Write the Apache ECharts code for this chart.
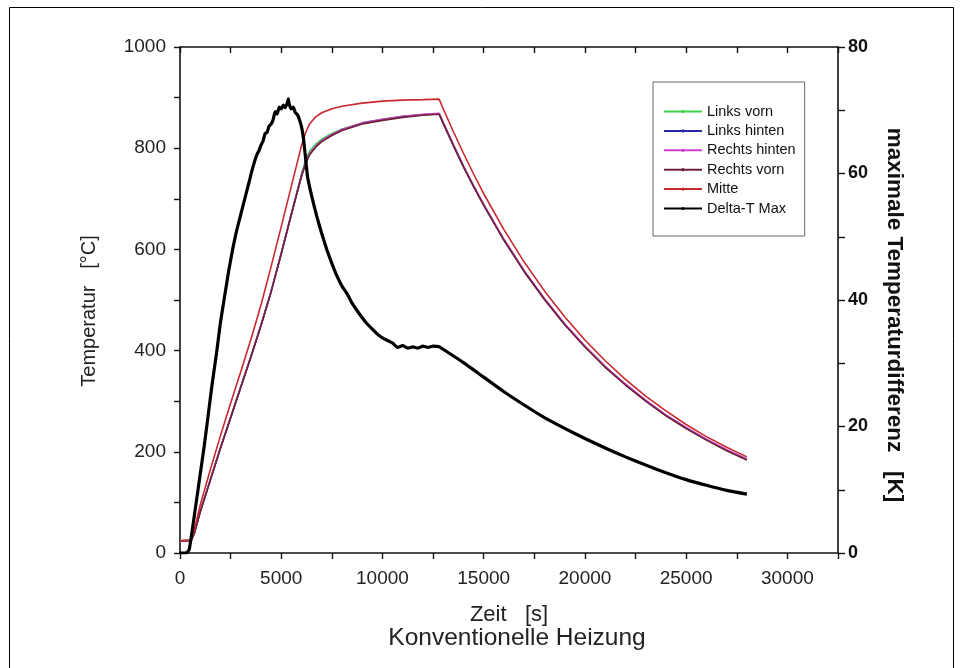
<!DOCTYPE html>
<html>
<head>
<meta charset="utf-8">
<script src="https://cdn.jsdelivr.net/npm/echarts@6/dist/echarts.min.js"></script>
<style>html,body{margin:0;padding:0;background:#fff;}#chart{width:963px;height:668px;}</style>
</head>
<body>
<div id="chart"></div>
<script>
// ---- Data ----
const zeit = [0, 550, 700, 1000, 1500, 2000, 2500, 3000, 3500, 4000, 4500, 5000, 5500, 6000, 6200, 6400, 6700, 7000, 7500, 8000, 9000, 10000, 11000, 12000, 12800,
  13000, 13500, 14000, 14500, 15000, 16000, 17000, 18000, 19000, 20000, 21000, 22000, 23000, 24000, 25000, 26000, 27000, 28000];
const linksVorn    = [24, 25, 38, 82, 145, 208, 268, 328, 388, 450, 517, 592, 670, 749, 776, 794, 808, 818, 829, 838, 850, 857, 863, 866, 868,
  850, 806, 764, 725, 688, 619, 557, 502, 452, 408, 368, 333, 301, 272, 247, 224, 203, 185];
const linksHinten  = [24, 25, 38, 82, 145, 208, 268, 328, 388, 450, 517, 592, 670, 745, 770, 788, 803, 814, 826, 836, 849, 856, 862, 866, 868,
  850, 806, 764, 725, 688, 619, 557, 502, 452, 408, 368, 333, 301, 272, 247, 224, 203, 185];
const rechtsHinten = [24, 25, 38, 82, 145, 208, 268, 328, 388, 450, 517, 592, 670, 746, 771, 789, 804, 815, 827, 837, 850, 857, 863, 867, 869,
  851, 807, 765, 726, 689, 620, 558, 503, 453, 409, 369, 334, 302, 273, 248, 225, 204, 186];
const rechtsVorn   = [24, 25, 38, 81, 144, 207, 267, 327, 387, 449, 516, 591, 669, 744, 769, 787, 802, 813, 825, 835, 848, 855, 861, 865, 867,
  849, 805, 763, 724, 687, 618, 556, 501, 451, 407, 367, 332, 300, 271, 246, 223, 202, 184];
const mitte        = [24, 25, 45, 95, 165, 232, 296, 358, 422, 490, 566, 645, 725, 805, 830, 848, 862, 870, 878, 883, 889, 893, 895, 896, 897,
  878, 833, 790, 749, 710, 639, 575, 518, 467, 421, 380, 343, 310, 281, 254, 230, 209, 190];

const zeitDelta = [0, 300, 450, 600, 800, 1000, 1200, 1400, 1600, 1800, 2000, 2200, 2400, 2600, 2800, 3000, 3200, 3400, 3600, 3800, 3900, 4000, 4100, 4200, 4300, 4400, 4500,
  4600, 4700, 4800, 4900, 5000, 5100, 5200, 5300, 5350, 5400, 5500, 5600, 5700, 5800, 5900, 6000, 6100, 6200, 6300, 6500, 6750, 7000, 7250, 7500, 7750, 8000,
  8250, 8500, 8750, 9000, 9250, 9500, 9750, 10000, 10250, 10500, 10750, 11000, 11250, 11500, 11750, 12000, 12250, 12500, 12800,
  13000, 14000, 15000, 16000, 17000, 18000, 19000, 20000, 21000, 22000, 23000, 24000, 25000, 26000, 27000, 28000];
const deltaTMax = [0, 0, 0.5, 3.5, 8, 12.5, 17, 22, 27, 31.5, 36.5, 40.5, 44.5, 48, 51, 53.5, 56, 58.5, 61, 63, 63.6, 64.5, 65.1, 66.3, 66.5, 67.5, 67.8,
  68.5, 69.8, 69.4, 70.5, 70.2, 70.8, 70.4, 71.2, 71.8, 70.9, 70.2, 70.5, 69.6, 69.3, 68.5, 67.4, 65.5, 62.5, 59.5, 56.5, 53.3, 50.5, 48, 45.8, 43.8, 42.2,
  41.0, 39.5, 38.3, 37.2, 36.2, 35.4, 34.6, 34.0, 33.6, 33.2, 32.5, 32.8, 32.4, 32.6, 32.4, 32.7, 32.5, 32.7, 32.6,
  32.2, 30.1, 27.8, 25.5, 23.4, 21.4, 19.7, 18.1, 16.6, 15.2, 13.9, 12.7, 11.6, 10.7, 9.9, 9.3];

const xTicks = [0, 5000, 10000, 15000, 20000, 25000, 30000];
const leftTicks = [0, 200, 400, 600, 800, 1000];
const rightTicks = [0, 20, 40, 60, 80];

const seriesNames = ['Links vorn', 'Links hinten', 'Rechts hinten', 'Rechts vorn', 'Mitte', 'Delta-T Max'];
const seriesColors = ['#3ecf4a', '#2a2aa8', '#cc3fcc', '#6e2236', '#c8282e', '#000000'];
const tempSeries = [linksVorn, linksHinten, rechtsHinten, rechtsVorn, mitte];

const zip = (xs, ys) => xs.map((x, i) => [x, ys[i]]);

const chart = echarts.init(document.getElementById('chart'));
const FONT = '"Liberation Sans", Arial, sans-serif';

const series = tempSeries.map((vals, i) => ({
  name: seriesNames[i],
  type: 'line',
  xAxisIndex: 0,
  yAxisIndex: 0,
  data: zip(zeit, vals),
  showSymbol: false,
  symbol: 'circle',
  symbolSize: 3,
  smooth: false,
  lineStyle: { width: 1.6, color: seriesColors[i] },
  itemStyle: { color: seriesColors[i] },
  animation: false,
  z: 2 + i
}));
series.push({
  name: seriesNames[5],
  type: 'line',
  xAxisIndex: 0,
  yAxisIndex: 1,
  data: zip(zeitDelta, deltaTMax),
  showSymbol: false,
  symbol: 'none',
  smooth: 0.15,
  lineStyle: { width: 3.2, color: '#000' },
  itemStyle: { color: '#000' },
  animation: false,
  z: 10
});

const axisLine = { show: true, onZero: false, lineStyle: { color: '#111', width: 1.6 } };

chart.setOption({
  animation: false,
  backgroundColor: '#fff',
  grid: { left: 180, right: 125, top: 47, bottom: 115, containLabel: false },
  legend: {
    orient: 'vertical',
    left: 653, top: 82,
    width: 151,
    padding: [22, 9, 20, 10],
    itemWidth: 38, itemHeight: 4, itemGap: 4.4,
    borderColor: '#666', borderWidth: 1,
    backgroundColor: '#fff',
    textStyle: { fontFamily: FONT, fontSize: 14.5, color: '#111', lineHeight: 15 },
    data: seriesNames
  },
  xAxis: [{
    type: 'value', position: 'bottom', min: 0, max: 32500, interval: 5000,
    axisLine: axisLine,
    axisTick: { show: true, inside: false, length: 6, lineStyle: { color: '#111', width: 1.4 } },
    minorTick: { show: true, splitNumber: 2, length: 6, lineStyle: { color: '#111', width: 1.4 } },
    splitLine: { show: false },
    axisLabel: { margin: 16, showMaxLabel: false, fontFamily: FONT, fontSize: 19, color: '#222',
      formatter: v => xTicks.includes(v) ? String(v) : '' }
  }, {
    type: 'value', position: 'top', min: 0, max: 32500, interval: 2500,
    axisLine: axisLine,
    axisTick: { show: true, inside: true, length: 6, lineStyle: { color: '#111', width: 1.4 } },
    axisLabel: { show: false },
    splitLine: { show: false }
  }],
  yAxis: [{
    type: 'value', position: 'left', min: 0, max: 1000, interval: 200,
    axisLine: axisLine,
    axisTick: { show: true, inside: false, length: 6, lineStyle: { color: '#111', width: 1.4 } },
    minorTick: { show: true, splitNumber: 2, length: 6, lineStyle: { color: '#111', width: 1.4 } },
    splitLine: { show: false },
    axisLabel: { margin: 14, fontFamily: FONT, fontSize: 19, color: '#222',
      formatter: v => leftTicks.includes(v) ? String(v) : '' }
  }, {
    type: 'value', position: 'right', min: 0, max: 80, interval: 20,
    axisLine: axisLine,
    axisTick: { show: true, inside: false, length: 7, lineStyle: { color: '#111', width: 1.4 } },
    minorTick: { show: true, splitNumber: 2, length: 7, lineStyle: { color: '#111', width: 1.4 } },
    splitLine: { show: false },
    axisLabel: { margin: 10, fontFamily: FONT, fontSize: 18, fontWeight: 'bold', color: '#111',
      formatter: v => rightTicks.includes(v) ? String(v) : '' }
  }],
  graphic: [
    { type: 'rect', shape: { x: 9.5, y: 7.5, width: 944, height: 680 }, style: { fill: 'none', stroke: '#000', lineWidth: 1 }, silent: true, z: 0 },
    { type: 'text', x: 89, y: 311, rotation: Math.PI / 2, style: { text: 'Temperatur   [°C]', font: '20px ' + FONT, fill: '#222', align: 'center', verticalAlign: 'middle' } },
    { type: 'text', x: 894, y: 315, rotation: -Math.PI / 2, style: { text: 'maximale Temperaturdifferenz   [K]', font: 'bold 22.5px ' + FONT, fill: '#111', align: 'center', verticalAlign: 'middle' } },
    { type: 'text', x: 509, y: 615, style: { text: 'Zeit   [s]', font: '22px ' + FONT, fill: '#222', align: 'center', verticalAlign: 'middle' } },
    { type: 'text', x: 517, y: 638, style: { text: 'Konventionelle Heizung', font: '24.5px ' + FONT, fill: '#222', align: 'center', verticalAlign: 'middle' } }
  ],
  series: series
});
</script>
</body>
</html>
